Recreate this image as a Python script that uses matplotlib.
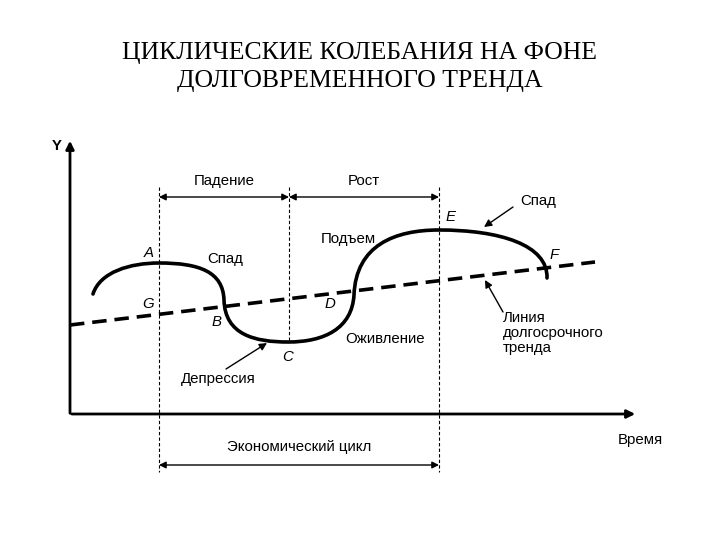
import matplotlib.pyplot as plt
from matplotlib.path import Path
from matplotlib.patches import PathPatch

# diagram coordinates (image space: x right, y down)
title = "ЦИКЛИЧЕСКИЕ КОЛЕБАНИЯ НА ФОНЕ\nДОЛГОВРЕМЕННОГО ТРЕНДА"

# cycle curve: start, then (ctrl1, ctrl2, end) per cubic segment
curve_start = (93, 294)
curve_segments = [
    [(100, 272), (130, 263), (159, 263)],   # up to A
    [(200, 263), (223, 272), (224, 300)],   # Спад to B
    [(225, 335), (255, 342), (288, 342)],   # down to C
    [(325, 342), (352, 328), (354, 295)],   # up to D
    [(356, 245), (395, 230), (439, 230)],   # Подъем to E
    [(500, 230), (548, 245), (547, 278)],   # to F
]

trend_x = [70, 595]
trend_y = [325, 262]

phase_x = [159, 289, 439]
phase_top = [187, 187, 187]
phase_bottom = [472, 342, 472]

point_labels = ["A", "G", "B", "C", "D", "E", "F"]
point_x = [149, 148, 217, 288, 330, 451, 554]
point_y = [253, 304, 322, 357, 304, 217, 255]

phase_labels = ["Спад", "Подъем", "Оживление"]
phase_label_x = [225, 348, 385]
phase_label_y = [259, 239, 339]

fig = plt.figure(figsize=(7.2, 5.4), dpi=100)
ax = fig.add_axes([0, 0, 1, 1])
ax.set_xlim(0, 720)
ax.set_ylim(540, 0)
ax.axis("off")

sans = "Liberation Sans"
fs = 10.8

ax.text(360, 67, title, ha="center", va="center", fontsize=18.5,
        family="Liberation Serif", linespacing=1.38)

# axes with arrows
ax.annotate("", xy=(70, 138), xytext=(70, 416),
            arrowprops=dict(arrowstyle="-|>", lw=2, color="black", mutation_scale=12))
ax.annotate("", xy=(638, 414), xytext=(69, 414),
            arrowprops=dict(arrowstyle="-|>", lw=2, color="black", mutation_scale=12))
ax.text(57, 146, "Y", fontsize=fs, family=sans, fontweight="bold", ha="center", va="center")
ax.text(640, 440, "Время", fontsize=fs, family=sans, ha="center", va="center")

# phase boundaries
for x, t, b in zip(phase_x, phase_top, phase_bottom):
    ax.plot([x, x], [t, b], color="black", lw=0.8, linestyle=(0, (3, 2)))

# interval arrows
def span(x0, x1, y, label, ly):
    ax.annotate("", xy=(x1, y), xytext=(x0, y),
                arrowprops=dict(arrowstyle="<|-|>", lw=1, color="black",
                                mutation_scale=10, shrinkA=0, shrinkB=0))
    ax.text((x0 + x1) / 2, ly, label, fontsize=fs, family=sans, ha="center", va="center")

span(phase_x[0], phase_x[1], 197, "Падение", 181)
span(phase_x[1], phase_x[2], 197, "Рост", 181)
span(phase_x[0], phase_x[2], 465, "Экономический цикл", 447)

# trend line
ax.plot(trend_x, trend_y, color="black", lw=2.6, linestyle=(0, (4, 2.2)))

# cycle curve
verts = [curve_start]
codes = [Path.MOVETO]
for seg in curve_segments:
    verts.extend(seg)
    codes.extend([Path.CURVE4] * 3)
ax.add_patch(PathPatch(Path(verts, codes), facecolor="none", edgecolor="black",
                       lw=2.6, capstyle="round"))

for lab, x, y in zip(point_labels, point_x, point_y):
    ax.text(x, y, lab, fontsize=fs, family=sans, style="italic", ha="center", va="center")

for lab, x, y in zip(phase_labels, phase_label_x, phase_label_y):
    ax.text(x, y, lab, fontsize=fs, family=sans, ha="center", va="center")

# pointer labels
def pointer(text, head, tail, tx, ty, ha="center"):
    ax.annotate("", xy=head, xytext=tail,
                arrowprops=dict(arrowstyle="-|>", lw=1, color="black",
                                mutation_scale=11, shrinkA=0, shrinkB=0))
    ax.text(tx, ty, text, fontsize=fs, family=sans, ha=ha, va="center",
            linespacing=1.05)

pointer("Депрессия", (267, 343), (226, 369), 218, 379)
pointer("Спад", (484, 227), (513, 207), 538, 201)
pointer("Линия\nдолгосрочного\nтренда", (485, 280), (503, 312), 503, 333, ha="left")

fig.savefig("out.png", dpi=100)
